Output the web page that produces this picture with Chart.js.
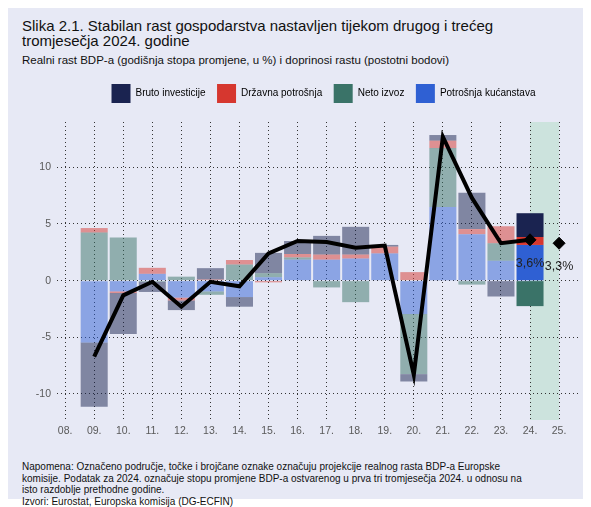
<!DOCTYPE html>
<html>
<head>
<meta charset="utf-8">
<script src="https://cdn.jsdelivr.net/npm/chart.js@4"></script>
<style>
  body { margin: 0; background: #ffffff; font-family: "Liberation Sans", Arial, sans-serif; }
  #panel { position: absolute; left: 8px; top: 8px; width: 575px; height: 491px; background: #e7e9f5; }
  .txt { position: absolute; left: 22px; color: #111; white-space: nowrap; }
  #title { top: 17.5px; font-size: 15px; line-height: 15px; }
  #subtitle { top: 53px; font-size: 11.5px; line-height: 14px; }
  #notes { top: 461px; font-size: 10px; line-height: 11.5px; }
  canvas { position: absolute; left: 0; top: 0; }
</style>
</head>
<body>
<div id="panel"></div>
<div id="title" class="txt">Slika 2.1. Stabilan rast gospodarstva nastavljen tijekom drugog i trećeg<br>tromjesečja 2024. godine</div>
<div id="subtitle" class="txt">Realni rast BDP-a (godišnja stopa promjene, u %) i doprinosi rastu (postotni bodovi)</div>
<div id="notes" class="txt">Napomena: Označeno područje, točke i brojčane oznake označuju projekcije realnog rasta BDP-a Europske<br>komisije. Podatak za 2024. označuje stopu promjene BDP-a ostvarenog u prva tri tromjesečja 2024. u odnosu na<br>isto razdoblje prethodne godine.<br>Izvori: Eurostat, Europska komisija (DG-ECFIN)</div>
<canvas id="chart" width="591" height="507"></canvas>
<script>
// x axis (years, 2008 = 8)
const tickYears = [8, 9, 10, 11, 12, 13, 14, 15, 16, 17, 18, 19, 20, 21, 22, 23, 24, 25];
const tickLabels = ['08.', '09.', '10.', '11.', '12.', '13.', '14.', '15.', '16.', '17.', '18.', '19.', '20.', '21.', '22.', '23.', '24.', '25.'];
const yTicks = [-10, -5, 0, 5, 10];

// contributions to growth (p.b.), 2009 - 2024
const barYears = [9, 10, 11, 12, 13, 14, 15, 16, 17, 18, 19, 20, 21, 22, 23, 24];
const potrosnjaKucanstava = [-5.47, -0.95, 0.6, -1.5, -0.95, -1.45, 0.3, 1.85, 1.85, 1.95, 2.4, -2.95, 6.5, 4.1, 1.75, 3.15];
const netoIzvoz = [4.24, 3.8, -0.1, 0.35, -0.3, 1.42, 0.35, 0.2, -0.6, -1.9, 0, -5.3, 5.2, -0.35, 1.55, -2.25];
const drzavnaPotrosnja = [0.4, -0.15, 0.53, -0.25, 0.1, 0.4, -0.15, 0.3, 0.45, 0.35, 0.6, 0.75, 0.65, 0.45, 1.5, 0.7];
const brutoInvesticije = [-5.65, -3.6, -0.9, -0.85, 1.0, -0.85, 1.8, 1.15, 1.65, 2.45, 0.15, -0.65, 0.5, 3.2, -1.4, 2.1];

// real GDP growth (%)
const bdpRast = [-6.7, -1.3, -0.1, -2.3, -0.1, -0.5, 2.4, 3.5, 3.4, 2.9, 3.1, -8.3, 12.7, 7.3, 3.3, 3.6];

// EC projections
const projYears = [24, 25];
const projValues = [3.6, 3.3];
const shadeFrom = 24;
const shadeTo = 25;

// Colors
const COLOR_INVESTICIJE = '#1a2350';
const COLOR_DRZAVNA = '#d6372f';
const COLOR_IZVOZ = '#3a7368';
const COLOR_POTROSNJA = '#2f60d3';
const COLOR_SHADE = '#cce3dd';

function muted(hex) {
    const n = parseInt(hex.slice(1), 16);
    return 'rgba(' + (n >> 16) + ',' + ((n >> 8) & 255) + ',' + (n & 255) + ',0.5)';
}

function barSet(label, values, color) {
    return {
        type: 'bar',
        label: label,
        data: barYears.map((x, i) => ({x: x, y: values[i]})),
        // last bar (2024) in full colour, history muted
        backgroundColor: ctx => ctx.dataIndex === barYears.length - 1 ? color : muted(color),
        legendColor: color,
        stack: 'doprinosi',
        order: 2,
        categoryPercentage: 1,
        barPercentage: 0.93
    };
}

const datasets = [
    barSet('Potrošnja kućanstava', potrosnjaKucanstava, COLOR_POTROSNJA),
    barSet('Neto izvoz', netoIzvoz, COLOR_IZVOZ),
    barSet('Državna potrošnja', drzavnaPotrosnja, COLOR_DRZAVNA),
    barSet('Bruto investicije', brutoInvesticije, COLOR_INVESTICIJE),
    {
        type: 'line',
        label: 'BDP',
        data: barYears.map((x, i) => ({x: x, y: bdpRast[i]})),
        borderColor: '#000',
        borderWidth: 4,
        pointRadius: 0,
        tension: 0,
        stack: 'bdp',
        order: 1
    },
    {
        type: 'line',
        label: 'Projekcija',
        data: projYears.map((x, i) => ({x: x, y: projValues[i]})),
        showLine: false,
        pointStyle: 'rectRot',
        pointRadius: 6,
        backgroundColor: '#000',
        borderColor: '#000',
        borderWidth: 1,
        stack: 'proj',
        order: 0
    }
];

// shaded projection area behind everything
const shadePlugin = {
    id: 'shade',
    beforeDraw(chart) {
        const {ctx, chartArea, scales} = chart;
        const x0 = scales.x.getPixelForValue(shadeFrom);
        const x1 = scales.x.getPixelForValue(shadeTo);
        ctx.save();
        ctx.fillStyle = COLOR_SHADE;
        ctx.fillRect(x0, chartArea.top, x1 - x0, chartArea.bottom - chartArea.top);
        ctx.restore();
    }
};

// "3,6%" labels under the diamonds
const projLabelPlugin = {
    id: 'projLabels',
    afterDatasetsDraw(chart) {
        const {ctx} = chart;
        const meta = chart.getDatasetMeta(5);
        ctx.save();
        ctx.font = '12.5px "Liberation Sans", Arial, sans-serif';
        ctx.fillStyle = '#222';
        ctx.textAlign = 'center';
        ctx.textBaseline = 'middle';
        meta.data.forEach((pt, i) => {
            ctx.fillText(projValues[i].toFixed(1).replace('.', ',') + '%', pt.x, pt.y + 23.5);
        });
        ctx.restore();
    }
};

// more room under the legend, and nudge it a bit to the right
const legendGapPlugin = {
    id: 'legendGap',
    beforeInit(chart) {
        const legend = chart.legend;
        const fit = legend.fit;
        legend.fit = function () {
            fit.call(this);
            this.height += 9;
        };
    },
    afterLayout(chart) {
        chart.legend.left += 5;
        chart.legend.right += 5;
    }
};

Chart.defaults.font.family = '"Liberation Sans", Arial, sans-serif';

new Chart('chart', {
    data: {datasets: datasets},
    options: {
        responsive: false,
        animation: false,
        layout: {padding: {top: 72.5, right: 11, bottom: 0, left: 0}},
        plugins: {
            tooltip: {enabled: false},
            legend: {
                position: 'top',
                fullSize: false,
                labels: {
                    boxWidth: 19,
                    boxHeight: 19,
                    padding: 11.5,
                    color: '#222',
                    font: {size: 10},
                    generateLabels: chart => [3, 2, 1, 0].map(i => ({
                        text: chart.data.datasets[i].label,
                        fillStyle: chart.data.datasets[i].legendColor,
                        strokeStyle: chart.data.datasets[i].legendColor,
                        lineWidth: 0,
                        hidden: false,
                        datasetIndex: i
                    }))
                }
            }
        },
        scales: {
            x: {
                type: 'linear',
                min: 7.72,
                max: 25.72,
                offset: false,
                stacked: true,
                afterBuildTicks: s => { s.ticks = tickYears.map(v => ({value: v})); },
                afterFit: s => { s.height = 87; },
                ticks: {
                    callback: (v, i) => tickLabels[i],
                    color: '#595959',
                    font: {size: 10.5},
                    padding: 5,
                    maxRotation: 0,
                    autoSkip: false
                },
                grid: {color: '#333', lineWidth: 1, drawTicks: false, offset: false},
                border: {display: false, dash: [1, 3]}
            },
            y: {
                min: -12.3,
                max: 14.0,
                stacked: true,
                afterBuildTicks: s => { s.ticks = yTicks.map(v => ({value: v})); },
                afterFit: s => { s.width = 57; },
                ticks: {
                    callback: v => String(v),
                    color: '#595959',
                    font: {size: 10.5},
                    padding: 6
                },
                grid: {color: '#333', lineWidth: 1, drawTicks: false},
                border: {display: false, dash: [1, 3]}
            }
        }
    },
    plugins: [shadePlugin, projLabelPlugin, legendGapPlugin]
});
</script>
</body>
</html>
